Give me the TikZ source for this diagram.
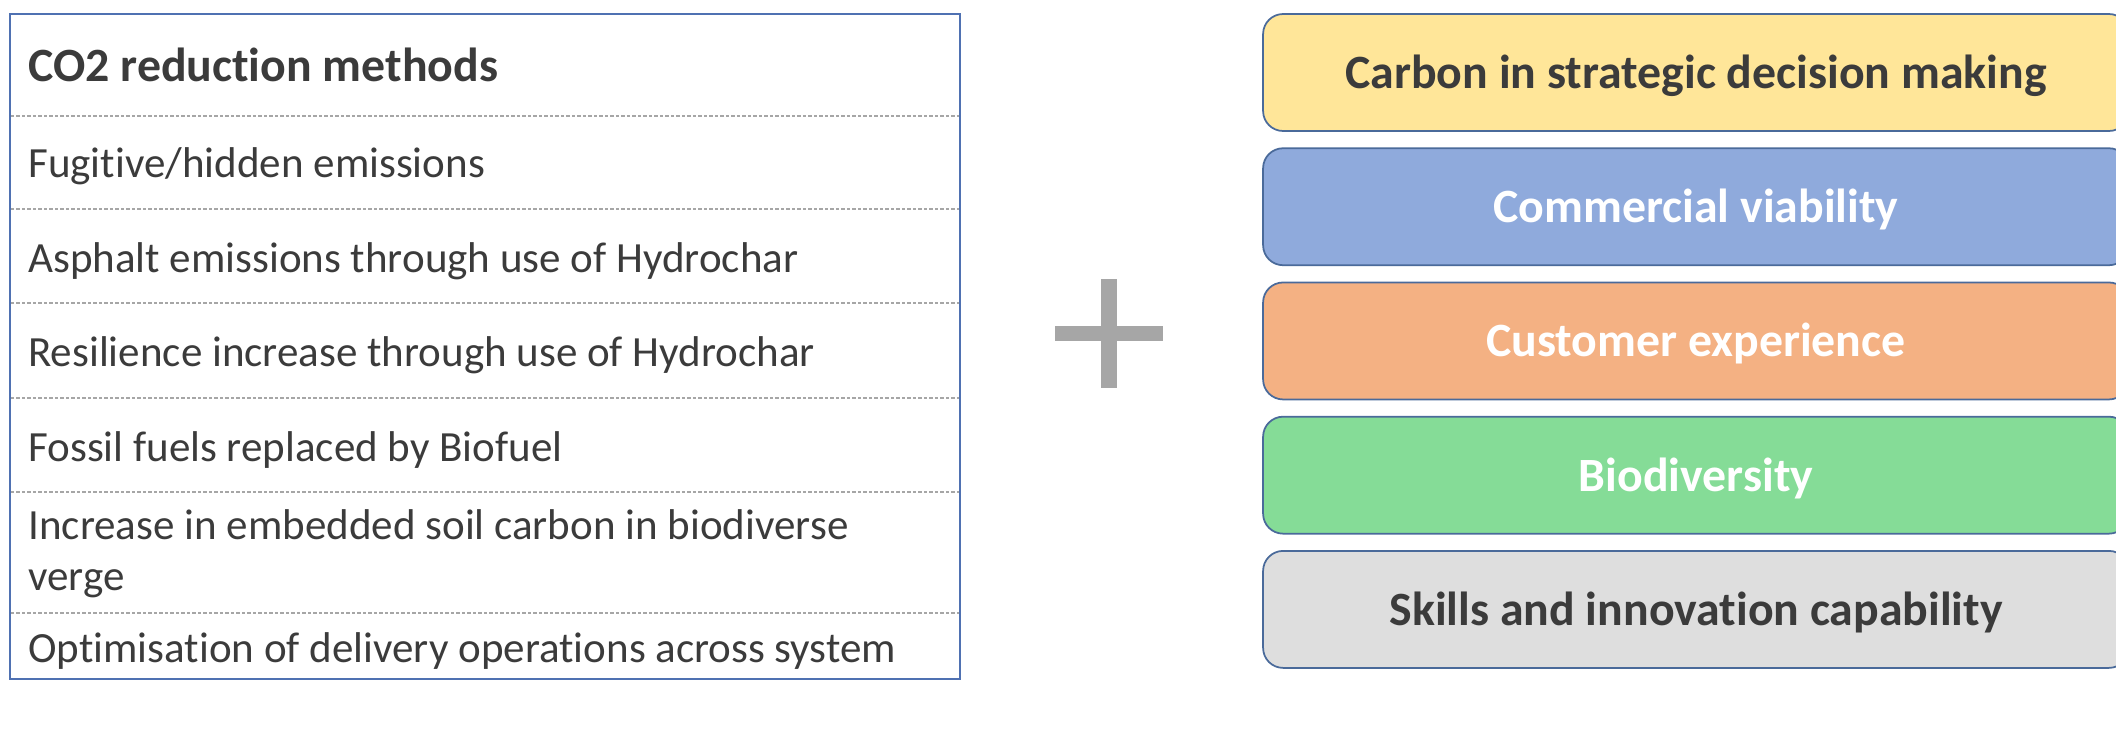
\documentclass[tikz,border=0pt]{standalone}
\usepackage{fontspec}
\setmainfont{Carlito}[Ligatures=NoCommon]
\usetikzlibrary{positioning}

\definecolor{tableblue}{HTML}{4F71B2}
\definecolor{rulegray}{HTML}{A6A6A6}
\definecolor{textgray}{HTML}{3B3B3B}
\definecolor{pillarline}{HTML}{4A6A9A}
\definecolor{plusgray}{HTML}{A6A6A6}
\definecolor{carbonyellow}{HTML}{FFE699}
\definecolor{commercialblue}{HTML}{8FAADC}
\definecolor{customerorange}{HTML}{F4B183}
\definecolor{biogreen}{HTML}{85DC97}
\definecolor{skillsgray}{HTML}{DEDEDE}

\tikzset{
    rowtext/.style={anchor=base west, inner sep=0pt, text=textgray,
        font=\fontsize{24.5}{28.5}\selectfont},
    headtext/.style={rowtext, font=\fontsize{27.2}{31}\selectfont\bfseries},
    pillar/.style={draw=pillarline, line width=0.035cm, rounded corners=0.4cm,
        minimum width=17.32cm, minimum height=2.34cm, inner sep=0pt,
        text height=0.74cm, text depth=0.1cm,
        font=\fontsize{27.2}{31}\selectfont\bfseries},
}

\begin{document}
\begin{tikzpicture}[x=0.02cm, y=-0.02cm]
    \clip[use as bounding box] (0,0) rectangle (2116,731);
    % CO2 table
    \draw[tableblue, line width=0.04cm] (10,14) rectangle (960,679);
    \foreach \y in {116,209,303,398,492,613} {
        \draw[rulegray, line width=0.03cm, dash pattern=on 0.07cm off 0.04cm] (11,\y) -- (959,\y);
    }
    \node[headtext] (head) at (28,81) {CO2 reduction methods};
    \node[rowtext] (fugitive) at (28,177) {Fugitive/hidden emissions};
    \node[rowtext] (asphalt) at (28,272) {Asphalt emissions through use of Hydrochar};
    \node[rowtext] (resilience) at (28,366) {Resilience increase through use of Hydrochar};
    \node[rowtext] (fossil) at (28,461) {Fossil fuels replaced by Biofuel};
    \node[rowtext, align=left] (soil) at (28,590) {Increase in embedded soil carbon in biodiverse\\verge};
    \node[rowtext] (delivery) at (28,662) {Optimisation of delivery operations across system};
    % plus sign
    \fill[plusgray] (1055,326) rectangle (1163,341);
    \fill[plusgray] (1101,279) rectangle (1117,388);
    % outcome boxes
    \node[pillar, fill=carbonyellow, text=textgray] (carbon) at (1696,72.5) {Carbon in strategic decision making};
    \node[pillar, fill=commercialblue, text=white, below=0.31cm of carbon] (commercial) {Commercial viability};
    \node[pillar, fill=customerorange, text=white, below=0.31cm of commercial] (customer) {Customer experience};
    \node[pillar, fill=biogreen, text=white, below=0.31cm of customer] (bio) {Biodiversity};
    \node[pillar, fill=skillsgray, text=textgray, below=0.31cm of bio] (skills) {Skills and innovation capability};
\end{tikzpicture}
\end{document}
